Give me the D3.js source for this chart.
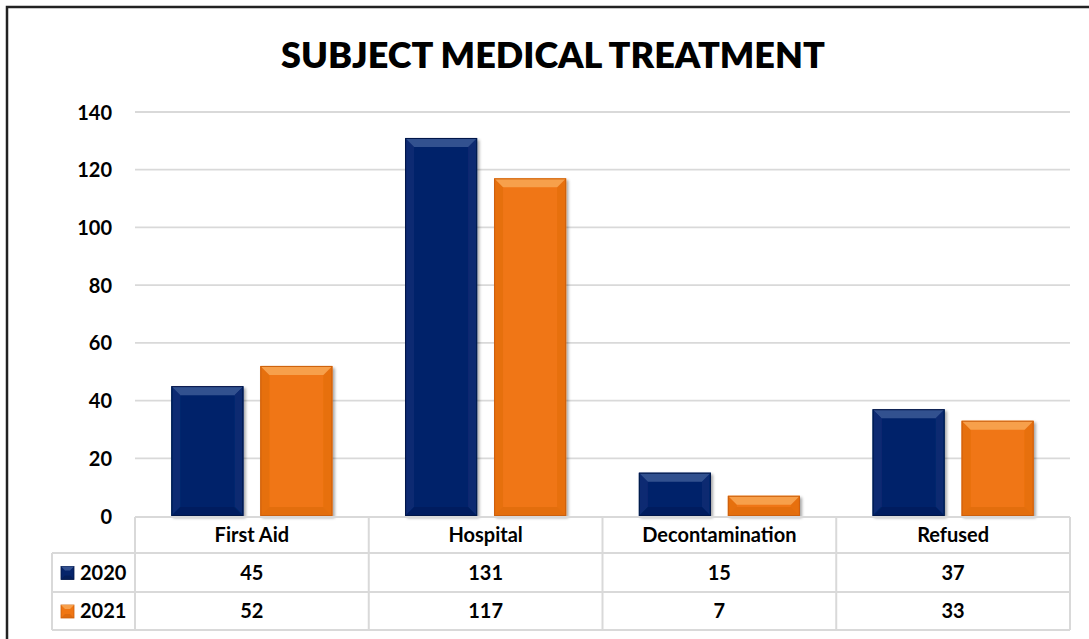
<!DOCTYPE html>
<html><head><meta charset="utf-8">
<script src="https://cdn.jsdelivr.net/npm/d3@7"></script>
<style>body{margin:0;background:#fff}svg{display:block}text{font-family:Lato,"Open Sans",sans-serif;font-weight:700;fill:#000}</style>
</head><body><svg id="c" width="1089" height="639"></svg>
<script>
const categories = ["First Aid", "Hospital", "Decontamination", "Refused"];
const seriesNames = ["2020", "2021"];
const values2020 = [45, 131, 15, 37];
const values2021 = [52, 117, 7, 33];
const yTicks = [0, 20, 40, 60, 80, 100, 120, 140];
const title = "SUBJECT MEDICAL TREATMENT";

const series = [
  {name: seriesNames[0], values: values2020, base: "#06246a", light: "#33518f", dark: "#031848", side: "#082a72"},
  {name: seriesNames[1], values: values2021, base: "#f07613", light: "#f7a04c", dark: "#cc600c", side: "#e66f10"}
];

const W = 1089, H = 639;
const svg = d3.select("#c");
const defs = svg.append("defs");
const f = defs.append("filter").attr("id","sh").attr("x","-20%").attr("y","-20%").attr("width","140%").attr("height","140%");
f.append("feGaussianBlur").attr("in","SourceAlpha").attr("stdDeviation",1.5);
f.append("feOffset").attr("dx",1.5).attr("dy",1.5).attr("result","o");
f.append("feComponentTransfer").append("feFuncA").attr("type","linear").attr("slope",0.35);
const m = f.append("feMerge"); m.append("feMergeNode"); m.append("feMergeNode").attr("in","SourceGraphic");

// frame
svg.append("path").attr("d",`M7,${H} L7,7 L${W},7`).attr("fill","none").attr("stroke","#222").attr("stroke-width",2.5);

const plotL = 135, plotR = 1070, plotT = 112, plotB = 516;
const x = d3.scaleBand().domain(categories).range([plotL, plotR]);
const y = d3.scaleLinear().domain([0, 140]).range([plotB, plotT]);

svg.append("text").attr("x", 553).attr("y", 68).attr("text-anchor","middle")
  .style("font-size","36px").style("font-weight","800").text(title);

// gridlines
svg.append("g").selectAll("line").data(yTicks.filter(d=>d>0)).join("line")
  .attr("x1",plotL).attr("x2",plotR).attr("y1",d=>y(d)).attr("y2",d=>y(d))
  .attr("stroke","#d9d9d9").attr("stroke-width",1.8);

// y axis labels
const yAxis = d3.axisLeft(y).tickValues(yTicks).tickSize(0).tickPadding(0);
const ya = svg.append("g").attr("transform",`translate(112,0)`).call(yAxis);
ya.select(".domain").remove();
ya.selectAll("text").style("font-size","20px").attr("dy","0.35em").style("font-family","Lato,sans-serif").style("font-weight","700");

// bars
const bw = 72, gap = 17;
function bar(g, x0, w, y0, y1, s) {
  const x1 = x0 + w, h = y1 - y0, b = Math.min(9, h/2);
  const gg = g.append("g").attr("filter","url(#sh)");
  gg.append("rect").attr("x",x0).attr("y",y0).attr("width",w).attr("height",h).attr("fill",s.base);
  gg.append("polygon").attr("points",`${x0},${y0} ${x0+b},${y0+b} ${x0+b},${y1-b} ${x0},${y1}`).attr("fill",s.side);
  gg.append("polygon").attr("points",`${x1},${y0} ${x1-b},${y0+b} ${x1-b},${y1-b} ${x1},${y1}`).attr("fill",s.side).attr("opacity",0.9);
  gg.append("polygon").attr("points",`${x0},${y1} ${x0+b},${y1-b} ${x1-b},${y1-b} ${x1},${y1}`).attr("fill",s.dark).attr("opacity",0.35);
  gg.append("polygon").attr("points",`${x0},${y0} ${x1},${y0} ${x1-b},${y0+b} ${x0+b},${y0+b}`).attr("fill",s.light);
  gg.append("rect").attr("x",x0+0.5).attr("y",y0+0.5).attr("width",w-1).attr("height",h-1).attr("fill","none").attr("stroke",s.dark).attr("stroke-width",1);
}
const barsG = svg.append("g");
categories.forEach((c, i) => {
  const groupW = 2*bw + gap;
  const gx = x(c) + (x.bandwidth() - groupW)/2;
  series.forEach((s, j) => {
    const bx = gx + j*(bw+gap);
    bar(barsG, bx, bw, y(s.values[i]), y(0), s);
  });
});

// data table
const rowTops = [517, 553, 592, 630];
const legL = 52;
const tg = svg.append("g");
const lc = "#d9d9d9", lw = 2;
tg.append("line").attr("x1",plotL).attr("x2",plotR).attr("y1",rowTops[0]).attr("y2",rowTops[0]).attr("stroke",lc).attr("stroke-width",lw);
rowTops.slice(1).forEach(yy => tg.append("line").attr("x1",legL).attr("x2",plotR).attr("y1",yy).attr("y2",yy).attr("stroke",lc).attr("stroke-width",lw));
const colEdges = categories.map(c => x(c)).concat([plotR]);
colEdges.forEach(xx => tg.append("line").attr("x1",xx).attr("x2",xx).attr("y1",rowTops[0]).attr("y2",rowTops[3]).attr("stroke",lc).attr("stroke-width",lw));
tg.append("line").attr("x1",legL).attr("x2",legL).attr("y1",rowTops[1]).attr("y2",rowTops[3]).attr("stroke",lc).attr("stroke-width",lw);

const rowMid = i => (rowTops[i] + rowTops[i+1]) / 2;
tg.selectAll("text.cat").data(categories).join("text").attr("class","cat")
  .attr("x", d => x(d) + x.bandwidth()/2).attr("y", rowMid(0)).attr("dy","0.36em")
  .attr("text-anchor","middle").style("font-size","20px").text(d => d);
series.forEach((s, j) => {
  const ry = rowMid(j+1);
  tg.selectAll(null).data(s.values).join("text")
    .attr("x", (d,i) => x(categories[i]) + x.bandwidth()/2).attr("y", ry).attr("dy","0.36em")
    .attr("text-anchor","middle").style("font-size","20px").text(d => d);
  const kx = 61, ky = ry - 6, k = 13;
  const kg = tg.append("g");
  kg.append("rect").attr("x",kx).attr("y",ky).attr("width",k).attr("height",k).attr("fill",s.base).attr("stroke",s.dark).attr("stroke-width",0.8);
  kg.append("polygon").attr("points",`${kx},${ky} ${kx+k},${ky} ${kx+k-4},${ky+4} ${kx+4},${ky+4}`).attr("fill",s.light);
  kg.append("polygon").attr("points",`${kx},${ky+k} ${kx+k},${ky+k} ${kx+k-4},${ky+k-4} ${kx+4},${ky+k-4}`).attr("fill",s.dark).attr("opacity",0.5);
  tg.append("text").attr("x",80).attr("y",ry).attr("dy","0.36em").style("font-size","20px").text(s.name);
});
</script></body></html>
